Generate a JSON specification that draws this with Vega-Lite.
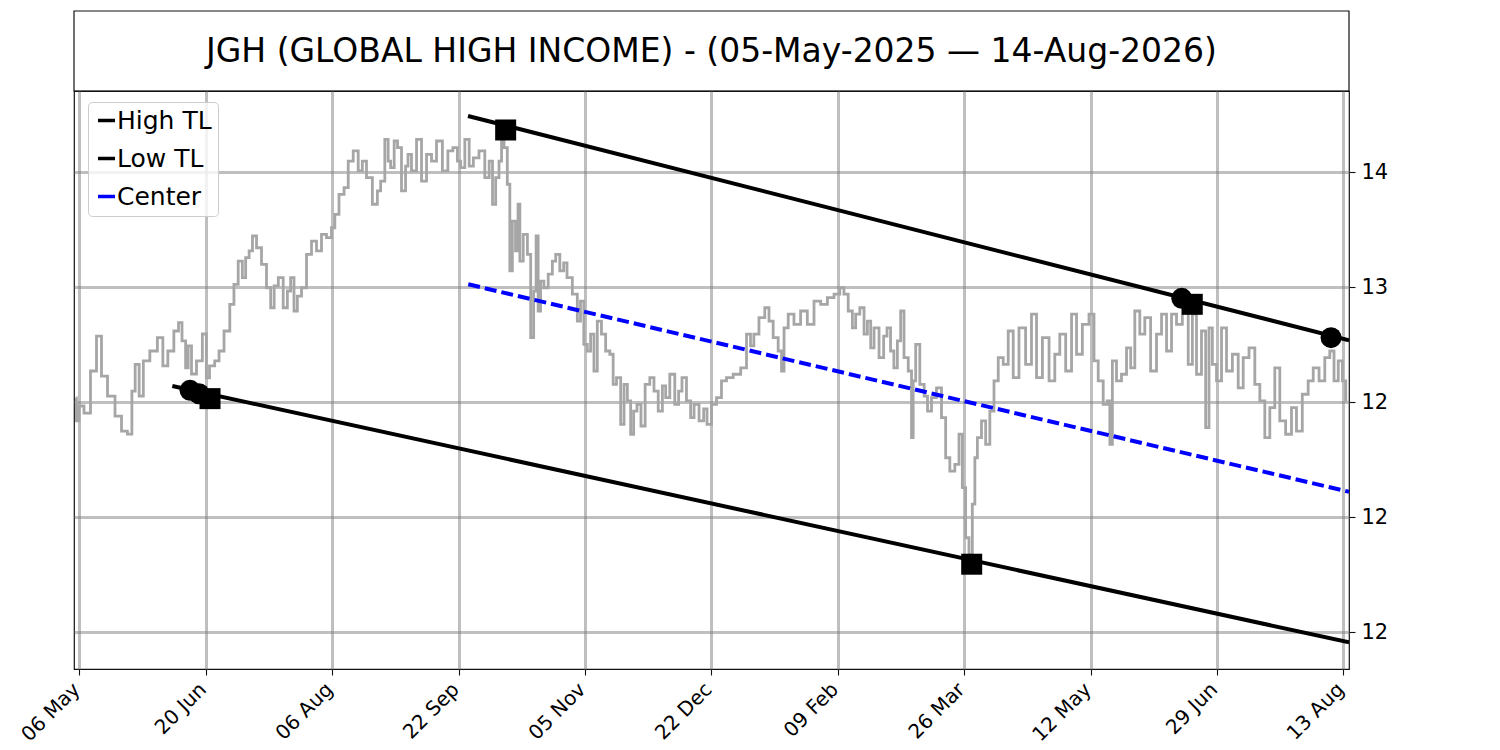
{
  "$schema": "https://vega.github.io/schema/vega-lite/v6.json",
  "description": "JGH price with high/low trend lines and center line",
  "padding": {"left": 16, "top": 10, "right": 10, "bottom": 10},
  "config": {
    "font": "DejaVu Sans",
    "view": {"stroke": "#111111", "strokeWidth": 1.2},
    "axis": {"domain": false, "labelFont": "DejaVu Sans", "labelColor": "#000000", "tickColor": "#111111", "tickWidth": 1.1}
  },
  "spacing": 0,
  "bounds": "flush",
  "datasets": {
    "price": [
      {"bar": -2.85, "price": 12.519}, {"bar": -1.8, "price": 12.419}, {"bar": 1.3, "price": 12.484}, {"bar": 6.1, "price": 12.453},
      {"bar": 11.6, "price": 12.636}, {"bar": 15.6, "price": 12.788}, {"bar": 19.5, "price": 12.614}, {"bar": 25.1, "price": 12.527},
      {"bar": 31.4, "price": 12.44}, {"bar": 35.4, "price": 12.375}, {"bar": 40.7, "price": 12.362}, {"bar": 42.5, "price": 12.549},
      {"bar": 45.9, "price": 12.665}, {"bar": 48.8, "price": 12.527}, {"bar": 52.5, "price": 12.68}, {"bar": 59.1, "price": 12.723},
      {"bar": 64.4, "price": 12.781}, {"bar": 67.8, "price": 12.658}, {"bar": 72.3, "price": 12.723}, {"bar": 77.3, "price": 12.81},
      {"bar": 79.7, "price": 12.846}, {"bar": 82.8, "price": 12.767}, {"bar": 85.4, "price": 12.65}, {"bar": 86.8, "price": 12.745},
      {"bar": 90.7, "price": 12.623}, {"bar": 94.7, "price": 12.68}, {"bar": 100.0, "price": 12.797}, {"bar": 101.0, "price": 12.606},
      {"bar": 105.0, "price": 12.658}, {"bar": 109.2, "price": 12.68}, {"bar": 111.9, "price": 12.723}, {"bar": 117.1, "price": 12.81},
      {"bar": 121.0, "price": 12.926}, {"bar": 123.7, "price": 13.013}, {"bar": 127.7, "price": 13.114}, {"bar": 130.3, "price": 13.042},
      {"bar": 132.9, "price": 13.129}, {"bar": 135.8, "price": 13.158}, {"bar": 138.2, "price": 13.223}, {"bar": 142.2, "price": 13.172},
      {"bar": 146.1, "price": 13.1}, {"bar": 150.1, "price": 12.998}, {"bar": 152.7, "price": 12.911}, {"bar": 155.6, "price": 13.006},
      {"bar": 159.3, "price": 13.042}, {"bar": 163.3, "price": 12.911}, {"bar": 165.9, "price": 12.984}, {"bar": 168.5, "price": 13.042},
      {"bar": 171.2, "price": 12.897}, {"bar": 173.8, "price": 12.962}, {"bar": 177.8, "price": 12.998}, {"bar": 181.7, "price": 13.143},
      {"bar": 185.7, "price": 13.201}, {"bar": 189.6, "price": 13.158}, {"bar": 193.6, "price": 13.23}, {"bar": 197.5, "price": 13.216},
      {"bar": 201.5, "price": 13.259}, {"bar": 202.8, "price": 13.317}, {"bar": 208.1, "price": 13.404}, {"bar": 210.8, "price": 13.433},
      {"bar": 214.7, "price": 13.549}, {"bar": 218.7, "price": 13.593}, {"bar": 222.6, "price": 13.506}, {"bar": 225.2, "price": 13.549},
      {"bar": 229.2, "price": 13.477}, {"bar": 234.5, "price": 13.361}, {"bar": 237.1, "price": 13.419}, {"bar": 239.7, "price": 13.462},
      {"bar": 243.7, "price": 13.643}, {"bar": 245.0, "price": 13.549}, {"bar": 247.6, "price": 13.52}, {"bar": 250.6, "price": 13.636},
      {"bar": 252.9, "price": 13.607}, {"bar": 256.9, "price": 13.419}, {"bar": 259.3, "price": 13.527}, {"bar": 260.8, "price": 13.578},
      {"bar": 264.8, "price": 13.506}, {"bar": 268.8, "price": 13.643}, {"bar": 272.7, "price": 13.462}, {"bar": 276.7, "price": 13.578},
      {"bar": 280.6, "price": 13.549}, {"bar": 284.6, "price": 13.636}, {"bar": 289.9, "price": 13.506}, {"bar": 293.3, "price": 13.593},
      {"bar": 297.8, "price": 13.607}, {"bar": 300.4, "price": 13.549}, {"bar": 303.0, "price": 13.52}, {"bar": 307.0, "price": 13.643},
      {"bar": 309.9, "price": 13.527}, {"bar": 313.6, "price": 13.563}, {"bar": 318.8, "price": 13.593}, {"bar": 322.8, "price": 13.477},
      {"bar": 325.7, "price": 13.549}, {"bar": 328.1, "price": 13.361}, {"bar": 330.7, "price": 13.477}, {"bar": 333.4, "price": 13.549},
      {"bar": 334.7, "price": 13.636}, {"bar": 337.3, "price": 13.607}, {"bar": 339.9, "price": 13.448}, {"bar": 341.3, "price": 13.071},
      {"bar": 343.9, "price": 13.288}, {"bar": 346.3, "price": 13.158}, {"bar": 347.9, "price": 13.361}, {"bar": 349.2, "price": 13.114},
      {"bar": 353.2, "price": 13.23}, {"bar": 355.8, "price": 13.143}, {"bar": 358.4, "price": 12.781}, {"bar": 360.5, "price": 12.984},
      {"bar": 362.3, "price": 13.223}, {"bar": 363.7, "price": 12.897}, {"bar": 366.1, "price": 13.027}, {"bar": 369.0, "price": 12.998},
      {"bar": 372.9, "price": 13.057}, {"bar": 375.6, "price": 13.114}, {"bar": 378.2, "price": 13.143}, {"bar": 382.1, "price": 13.071},
      {"bar": 384.3, "price": 13.106}, {"bar": 387.4, "price": 13.042}, {"bar": 392.7, "price": 12.97}, {"bar": 395.3, "price": 12.853},
      {"bar": 397.7, "price": 12.94}, {"bar": 400.6, "price": 12.752}, {"bar": 403.2, "price": 12.723}, {"bar": 405.8, "price": 12.796},
      {"bar": 408.5, "price": 12.636}, {"bar": 411.1, "price": 12.853}, {"bar": 415.1, "price": 12.796}, {"bar": 417.7, "price": 12.723},
      {"bar": 421.7, "price": 12.709}, {"bar": 423.0, "price": 12.578}, {"bar": 427.0, "price": 12.607}, {"bar": 429.6, "price": 12.404},
      {"bar": 432.3, "price": 12.578}, {"bar": 434.9, "price": 12.506}, {"bar": 437.5, "price": 12.361}, {"bar": 439.6, "price": 12.462},
      {"bar": 442.8, "price": 12.491}, {"bar": 445.9, "price": 12.397}, {"bar": 449.4, "price": 12.578}, {"bar": 453.3, "price": 12.607},
      {"bar": 456.0, "price": 12.549}, {"bar": 460.0, "price": 12.462}, {"bar": 462.6, "price": 12.571}, {"bar": 465.2, "price": 12.52},
      {"bar": 469.1, "price": 12.622}, {"bar": 473.1, "price": 12.491}, {"bar": 475.2, "price": 12.549}, {"bar": 478.4, "price": 12.607},
      {"bar": 482.3, "price": 12.506}, {"bar": 485.0, "price": 12.433}, {"bar": 487.7, "price": 12.491}, {"bar": 492.9, "price": 12.419},
      {"bar": 495.0, "price": 12.471}, {"bar": 498.2, "price": 12.404}, {"bar": 502.1, "price": 12.491}, {"bar": 506.1, "price": 12.52},
      {"bar": 510.0, "price": 12.593}, {"bar": 514.0, "price": 12.607}, {"bar": 520.6, "price": 12.622}, {"bar": 525.9, "price": 12.65},
      {"bar": 529.8, "price": 12.796}, {"bar": 532.2, "price": 12.745}, {"bar": 535.1, "price": 12.796}, {"bar": 540.3, "price": 12.868},
      {"bar": 544.3, "price": 12.911}, {"bar": 547.0, "price": 12.853}, {"bar": 550.9, "price": 12.781}, {"bar": 554.9, "price": 12.723},
      {"bar": 556.2, "price": 12.636}, {"bar": 558.9, "price": 12.824}, {"bar": 562.8, "price": 12.883}, {"bar": 568.0, "price": 12.839},
      {"bar": 573.3, "price": 12.897}, {"bar": 578.6, "price": 12.839}, {"bar": 583.9, "price": 12.94}, {"bar": 589.2, "price": 12.926},
      {"bar": 594.5, "price": 12.955}, {"bar": 599.7, "price": 12.97}, {"bar": 603.6, "price": 12.998}, {"bar": 606.3, "price": 12.97},
      {"bar": 610.3, "price": 12.897}, {"bar": 612.9, "price": 12.824}, {"bar": 615.5, "price": 12.883}, {"bar": 619.5, "price": 12.911},
      {"bar": 622.2, "price": 12.796}, {"bar": 624.8, "price": 12.853}, {"bar": 627.4, "price": 12.737}, {"bar": 630.1, "price": 12.824},
      {"bar": 635.3, "price": 12.694}, {"bar": 637.4, "price": 12.788}, {"bar": 640.6, "price": 12.824}, {"bar": 643.0, "price": 12.723},
      {"bar": 645.9, "price": 12.65}, {"bar": 648.5, "price": 12.767}, {"bar": 651.1, "price": 12.897}, {"bar": 653.8, "price": 12.694},
      {"bar": 657.8, "price": 12.636}, {"bar": 659.0, "price": 12.346}, {"bar": 660.4, "price": 12.593}, {"bar": 663.0, "price": 12.752},
      {"bar": 666.9, "price": 12.578}, {"bar": 669.9, "price": 12.527}, {"bar": 672.2, "price": 12.462}, {"bar": 676.2, "price": 12.52},
      {"bar": 680.1, "price": 12.563}, {"bar": 684.1, "price": 12.433}, {"bar": 686.7, "price": 12.259}, {"bar": 690.7, "price": 12.201},
      {"bar": 694.6, "price": 12.23}, {"bar": 697.3, "price": 12.361}, {"bar": 699.9, "price": 12.129}, {"bar": 702.5, "price": 11.911},
      {"bar": 705.2, "price": 11.839}, {"bar": 707.8, "price": 12.057}, {"bar": 709.2, "price": 12.259}, {"bar": 711.8, "price": 12.346},
      {"bar": 715.7, "price": 12.419}, {"bar": 718.4, "price": 12.317}, {"bar": 722.3, "price": 12.462}, {"bar": 725.0, "price": 12.593},
      {"bar": 729.0, "price": 12.694}, {"bar": 732.9, "price": 12.665}, {"bar": 736.9, "price": 12.81}, {"bar": 740.8, "price": 12.607},
      {"bar": 746.0, "price": 12.824}, {"bar": 751.3, "price": 12.665}, {"bar": 755.3, "price": 12.883}, {"bar": 759.3, "price": 12.607},
      {"bar": 764.6, "price": 12.781}, {"bar": 769.8, "price": 12.593}, {"bar": 773.7, "price": 12.709}, {"bar": 777.7, "price": 12.796},
      {"bar": 783.0, "price": 12.636}, {"bar": 787.0, "price": 12.883}, {"bar": 790.9, "price": 12.709}, {"bar": 796.2, "price": 12.839},
      {"bar": 801.4, "price": 12.883}, {"bar": 804.1, "price": 12.68}, {"bar": 808.1, "price": 12.593}, {"bar": 812.0, "price": 12.491},
      {"bar": 814.6, "price": 12.506}, {"bar": 816.0, "price": 12.317}, {"bar": 818.6, "price": 12.68}, {"bar": 822.5, "price": 12.593},
      {"bar": 826.5, "price": 12.622}, {"bar": 830.5, "price": 12.737}, {"bar": 833.1, "price": 12.65}, {"bar": 837.0, "price": 12.897},
      {"bar": 841.0, "price": 12.796}, {"bar": 844.9, "price": 12.868}, {"bar": 850.2, "price": 12.636}, {"bar": 854.2, "price": 12.796},
      {"bar": 858.2, "price": 12.883}, {"bar": 862.1, "price": 12.723}, {"bar": 866.1, "price": 12.883}, {"bar": 870.0, "price": 12.839},
      {"bar": 875.3, "price": 12.911}, {"bar": 879.3, "price": 12.665}, {"bar": 881.9, "price": 12.883}, {"bar": 885.8, "price": 12.622},
      {"bar": 889.8, "price": 12.81}, {"bar": 892.4, "price": 12.39}, {"bar": 895.1, "price": 12.824}, {"bar": 897.7, "price": 12.665},
      {"bar": 901.7, "price": 12.593}, {"bar": 905.6, "price": 12.824}, {"bar": 909.6, "price": 12.636}, {"bar": 914.9, "price": 12.709},
      {"bar": 918.8, "price": 12.563}, {"bar": 922.8, "price": 12.694}, {"bar": 928.0, "price": 12.737}, {"bar": 932.0, "price": 12.578},
      {"bar": 935.9, "price": 12.506}, {"bar": 939.9, "price": 12.346}, {"bar": 943.8, "price": 12.477}, {"bar": 947.8, "price": 12.65},
      {"bar": 951.7, "price": 12.419}, {"bar": 957.0, "price": 12.361}, {"bar": 961.0, "price": 12.477}, {"bar": 964.9, "price": 12.375},
      {"bar": 970.2, "price": 12.535}, {"bar": 974.2, "price": 12.593}, {"bar": 978.2, "price": 12.65}, {"bar": 983.4, "price": 12.593},
      {"bar": 987.3, "price": 12.694}, {"bar": 991.3, "price": 12.723}, {"bar": 994.0, "price": 12.593}, {"bar": 998.0, "price": 12.68},
      {"bar": 1000.6, "price": 12.593}, {"bar": 1003.2, "price": 12.506}
    ],
    "trend": [
      {"series": "High TL", "bar": 307.5, "price": 13.745},
      {"series": "High TL", "bar": 1004.5, "price": 12.77},
      {"series": "Low TL", "bar": 73.6, "price": 12.571},
      {"series": "Low TL", "bar": 1004.5, "price": 11.456}
    ],
    "center": [
      {"series": "Center", "bar": 307.7, "price": 13.013},
      {"series": "Center", "bar": 1004.5, "price": 12.111}
    ],
    "pivots": [
      {"kind": "circle", "bar": 87.6, "price": 12.552},
      {"kind": "circle", "bar": 94.7, "price": 12.537},
      {"kind": "circle", "bar": 872.2, "price": 12.952},
      {"kind": "circle", "bar": 990.3, "price": 12.781},
      {"kind": "square", "bar": 103.4, "price": 12.516},
      {"kind": "square", "bar": 337.3, "price": 13.684},
      {"kind": "square", "bar": 706.0, "price": 11.796},
      {"kind": "square", "bar": 880.5, "price": 12.926}
    ]
  },
  "vconcat": [
    {
      "width": 1275,
      "height": 80,
      "data": {"values": [{"title": "JGH (GLOBAL HIGH INCOME) - (05-May-2025 — 14-Aug-2026)"}]},
      "layer": [
        {
          "mark": {"type": "rect", "fill": null, "stroke": "#111111", "strokeWidth": 1.2},
          "encoding": {}
        },
        {
          "mark": {"type": "text", "fontSize": 33, "font": "DejaVu Sans", "color": "#000000", "baseline": "middle", "align": "center", "dy": 1},
          "encoding": {"text": {"field": "title"}}
        }
      ]
    },
    {
      "width": 1275,
      "height": 578,
      "encoding": {
        "x": {
          "field": "bar",
          "type": "quantitative",
          "scale": {"domain": [-4.2, 1004.5], "nice": false, "zero": false},
          "axis": {
            "title": null,
            "values": [0, 100, 200, 300, 400, 500, 600, 700, 800, 900, 1000],
            "labelExpr": "['06 May','20 Jun','06 Aug','22 Sep','05 Nov','22 Dec','09 Feb','26 Mar','12 May','29 Jun','13 Aug'][round(datum.value / 100)]",
            "labelAngle": -45,
            "labelAlign": "right",
            "labelBaseline": "top",
            "labelFontSize": 20,
            "labelOffset": -10,
            "labelPadding": 4,
            "labelOverlap": false,
            "labelBound": false,
            "tickSize": 6,
            "grid": true,
            "gridColor": "#808080",
            "gridOpacity": 0.5,
            "gridWidth": 3
          }
        },
        "y": {
          "field": "price",
          "type": "quantitative",
          "scale": {"domain": [11.3404, 13.8535], "nice": false, "zero": false},
          "axis": {
            "title": null,
            "orient": "right",
            "values": [11.5, 12, 12.5, 13, 13.5],
            "labelExpr": "datum.value == 13.5 ? '14' : datum.value == 13 ? '13' : '12'",
            "labelFontSize": 21,
            "labelPadding": 6,
            "tickSize": 6,
            "grid": true,
            "gridColor": "#808080",
            "gridOpacity": 0.5,
            "gridWidth": 3
          }
        }
      },
      "layer": [
        {
          "data": {"name": "price"},
          "mark": {"type": "line", "color": "#a6a6a6", "strokeWidth": 2.8, "interpolate": "step", "clip": true}
        },
        {
          "data": {"name": "trend"},
          "mark": {"type": "line", "strokeWidth": 4, "clip": true},
          "encoding": {
            "color": {
              "field": "series",
              "type": "nominal",
              "scale": {"domain": ["High TL", "Low TL", "Center"], "range": ["#000000", "#000000", "#0000ff"]},
              "legend": {
                "title": null,
                "orient": "none",
                "legendX": 14,
                "legendY": 91,
                "symbolType": "stroke",
                "symbolStrokeWidth": 3.5,
                "symbolSize": 289,
                "symbolDash": [1, 0],
                "labelFontSize": 25,
                "labelFont": "DejaVu Sans",
                "labelColor": "#000000",
                "labelOffset": -2,
                "labelLimit": 400,
                "rowPadding": 12,
                "padding": 6,
                "strokeColor": "#cccccc",
                "fillColor": "rgba(255,255,255,0.8)",
                "cornerRadius": 4,
                "encode": {"symbols": {"update": {"strokeDash": {"value": [1, 0]}}}}
              }
            }
          }
        },
        {
          "data": {"name": "center"},
          "mark": {"type": "line", "color": "#0000ff", "strokeWidth": 4, "strokeDash": [12, 5], "clip": true}
        },
        {
          "data": {"name": "pivots"},
          "mark": {"type": "point", "filled": true, "color": "#000000", "opacity": 1, "size": 441},
          "encoding": {
            "shape": {"field": "kind", "type": "nominal", "scale": null}
          }
        }
      ]
    }
  ]
}
